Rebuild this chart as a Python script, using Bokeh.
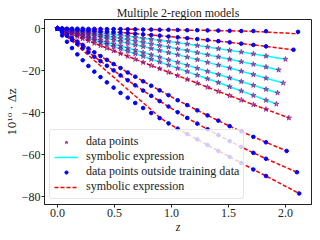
from bokeh.plotting import figure
from bokeh.models import Range1d, FixedTicker, CustomJSTickFormatter, Legend, LegendItem
from bokeh.embed import file_html
from bokeh.resources import INLINE

# shared redshift grid and per-curve last redshift
Z_GRID = [0.0, 0.041, 0.083, 0.127, 0.174, 0.221, 0.271, 0.323, 0.377, 0.433, 0.492,
          0.553, 0.616, 0.682, 0.751, 0.822, 0.896, 0.974, 1.054, 1.138, 1.226, 1.316,
          1.411, 1.510, 1.612, 1.718, 1.829]
Z_END = [2.11, 2.07, 2.00, 1.94, 1.98, 1.93, 1.92, 2.03, 2.01, 2.10, 2.12]

# data points (10^10 * delta z) per model
DZ1 = [0, 0, -0.1, -0.1, -0.1, -0.1, -0.2, -0.2, -0.2, -0.3, -0.3, -0.3, -0.4, -0.4, -0.5, -0.5, -0.6, -0.6, -0.7, -0.8, -0.8, -0.9, -1.0, -1.1, -1.2, -1.2, -1.3, -1.6]
DZ2 = [0, -0.1, -0.3, -0.4, -0.5, -0.7, -0.9, -1.1, -1.3, -1.5, -1.7, -1.9, -2.2, -2.5, -2.8, -3.1, -3.4, -3.8, -4.2, -4.6, -5.0, -5.5, -6.0, -6.6, -7.2, -7.8, -8.5, -10.1]
DZ3 = [0, -0.2, -0.5, -0.7, -1.0, -1.3, -1.6, -1.9, -2.2, -2.6, -2.9, -3.3, -3.7, -4.2, -4.7, -5.1, -5.7, -6.2, -6.8, -7.4, -8.1, -8.8, -9.6, -10.4, -11.2, -12.1, -13.1, -14.6]
DZ4 = [0, -0.3, -0.7, -1.0, -1.4, -1.8, -2.3, -2.7, -3.2, -3.7, -4.2, -4.8, -5.3, -6.0, -6.6, -7.3, -8.1, -8.8, -9.7, -10.5, -11.5, -12.5, -13.5, -14.6, -15.8, -17.0, -18.3, -19.7]
DZ5 = [0, -0.4, -0.9, -1.4, -1.9, -2.4, -2.9, -3.5, -4.1, -4.8, -5.5, -6.2, -7.0, -7.8, -8.6, -9.5, -10.5, -11.5, -12.5, -13.6, -14.8, -16.1, -17.4, -18.8, -20.3, -21.9, -23.6, -25.9]
DZ6 = [0, -0.6, -1.2, -1.9, -2.6, -3.3, -4.0, -4.8, -5.6, -6.5, -7.4, -8.3, -9.3, -10.3, -11.4, -12.5, -13.6, -14.9, -16.1, -17.5, -18.9, -20.4, -21.9, -23.5, -25.2, -27.0, -28.9, -30.6]
DZ7 = [0, -0.7, -1.4, -2.2, -3.0, -3.8, -4.7, -5.6, -6.5, -7.5, -8.6, -9.7, -10.8, -12.0, -13.2, -14.6, -15.9, -17.4, -18.9, -20.5, -22.2, -23.9, -25.7, -27.7, -29.7, -31.8, -34.1, -35.9]
DZ8 = [0, -0.9, -1.8, -2.7, -3.8, -4.8, -5.8, -7.0, -8.1, -9.3, -10.6, -11.9, -13.2, -14.6, -16.1, -17.6, -19.1, -20.8, -22.4, -24.2, -26.0, -27.9, -29.9, -31.9, -34.0, -36.2, -38.4, -42.5]
DZ9 = [0, -1.5, -3.0, -4.5, -6.2, -7.8, -9.5, -11.3, -13.1, -14.9, -16.9, -18.8, -20.9, -22.9, -25.1, -27.2, -29.4, -31.7, -34.1, -36.4, -38.9, -41.3, -43.8, -46.4, -48.9, -51.5, -54.1, -58.2]
DZ10 = [0, -1.8, -3.5, -5.4, -7.3, -9.3, -11.3, -13.4, -15.5, -17.7, -19.9, -22.3, -24.6, -27.0, -29.5, -32.0, -34.5, -37.1, -39.8, -42.5, -45.2, -47.9, -50.7, -53.5, -56.3, -59.1, -61.9, -68.3]
DZ11 = [0, -3.3, -6.3, -9.3, -12.3, -15.1, -17.8, -20.5, -23.1, -25.6, -28.1, -30.6, -32.9, -35.4, -37.8, -40.2, -42.6, -45.1, -47.6, -50.2, -52.7, -55.4, -58.2, -61.0, -63.9, -67.0, -70.1, -78.4]
DZ = [DZ1, DZ2, DZ3, DZ4, DZ5, DZ6, DZ7, DZ8, DZ9, DZ10, DZ11]

# symbolic expressions that depart from their data points
EXPR1 = [0, 0, -0.1, -0.1, -0.1, -0.1, -0.2, -0.2, -0.2, -0.3, -0.3, -0.3, -0.4, -0.4, -0.5, -0.5, -0.6, -0.6, -0.7, -0.8, -0.8, -0.9, -1.0, -1.1, -1.2, -1.4, -1.7, -2.5]
EXPR11 = [0, -1.9, -3.9, -6.0, -8.2, -10.4, -12.7, -15.2, -17.7, -20.4, -23.1, -26.0, -29.0, -32.1, -35.3, -38.6, -42.3, -45.1, -47.6, -50.2, -52.7, -55.4, -58.2, -61.0, -63.9, -67.0, -70.1, -78.4]
EXPR = [EXPR1] + [None] * 9 + [EXPR11]

STAR_POINTS = [False, False, True, True, True, True, True, True, False, False, False]
CYAN_LINE = [False, False, True, True, True, True, True, False, False, False, False]

X_TICKS = [0.0, 0.5, 1.0, 1.5, 2.0]
Y_TICKS = [0, -20, -40, -60, -80]

SERIF = "Liberation Serif"
INK = "#222222"

zs = [Z_GRID + [ze] for ze in Z_END]

star_x, star_y, dot_x, dot_y = [], [], [], []
cyan_xs, cyan_ys, red_xs, red_ys = [], [], [], []
for z, d, e, st, cy in zip(zs, DZ, EXPR, STAR_POINTS, CYAN_LINE):
    if st:
        star_x += z; star_y += d
    else:
        dot_x += z; dot_y += d
    line_y = d if e is None else e
    if cy:
        cyan_xs.append(z); cyan_ys.append(line_y)
    else:
        red_xs.append(z); red_ys.append(line_y)

p = figure(width=320, height=240, output_backend="svg", toolbar_location=None,
           x_range=Range1d(-0.114, 2.228), y_range=Range1d(-83.65, 4.28),
           min_border_left=44, min_border_right=9, min_border_top=19, min_border_bottom=36)
p.title.text = "Multiple 2-region models"
p.title.align = "center"
p.title.text_font = SERIF
p.title.text_font_size = "12px"
p.title.text_font_style = "normal"
p.title.text_color = INK
p.title.standoff = 0

p.grid.visible = False
p.outline_line_color = INK
p.outline_line_width = 1

red_r = p.multi_line(xs=red_xs, ys=red_ys, line_color="red", line_width=1.5, line_dash="4 2")
cyan_r = p.multi_line(xs=cyan_xs, ys=cyan_ys, line_color="cyan", line_width=1.5)
star_r = p.scatter(x=star_x, y=star_y, marker="star", size=5.5, fill_color="purple",
                   line_color="purple", fill_alpha=0.55, line_alpha=0.55)
dot_r = p.scatter(x=dot_x, y=dot_y, marker="circle", size=3.6, fill_color="blue", line_color="blue")

for ax in (p.xaxis[0], p.yaxis[0]):
    ax.major_label_text_font = SERIF
    ax.major_label_text_font_size = "12px"
    ax.major_label_text_color = INK
    ax.axis_label_text_font = SERIF
    ax.axis_label_text_font_size = "12px"
    ax.axis_label_text_font_style = "normal"
    ax.axis_label_text_color = INK
    ax.major_tick_in = 0
    ax.major_tick_out = 3
    ax.minor_tick_line_color = None
    ax.axis_line_color = INK
    ax.major_tick_line_color = INK
    ax.major_label_standoff = 1
    ax.axis_label_standoff = 0

p.xaxis.ticker = FixedTicker(ticks=X_TICKS)
p.yaxis.ticker = FixedTicker(ticks=Y_TICKS)
p.xaxis.formatter = CustomJSTickFormatter(code="return tick.toFixed(1);")
p.yaxis.formatter = CustomJSTickFormatter(code="return (tick < 0 ? '\u2212' : '') + Math.abs(tick).toFixed(0);")
p.xaxis.axis_label = "z"
p.xaxis.axis_label_text_font_style = "italic"
p.yaxis.axis_label = "10\u00b9\u2070 \u00b7 \u0394z"
p.yaxis.axis_label_text_font = "DejaVu Serif"
p.yaxis.axis_label_text_font_size = "11px"

legend = Legend(items=[
    LegendItem(label="data points", renderers=[star_r]),
    LegendItem(label="symbolic expression", renderers=[cyan_r]),
    LegendItem(label="data points outside training data", renderers=[dot_r]),
    LegendItem(label="symbolic expression", renderers=[red_r]),
], location="bottom_left")
legend.margin = 5
legend.padding = 4
legend.spacing = 0
legend.glyph_width = 24
legend.glyph_height = 8
legend.label_height = 14
legend.label_standoff = 8
legend.label_text_font = SERIF
legend.label_text_font_size = "12px"
legend.label_text_color = INK
legend.border_line_color = "#cccccc"
legend.background_fill_alpha = 0.8
if "border_radius" in Legend.properties():
    legend.border_radius = 3
p.add_layout(legend)

open("out.html", "w").write(file_html(p, INLINE))
